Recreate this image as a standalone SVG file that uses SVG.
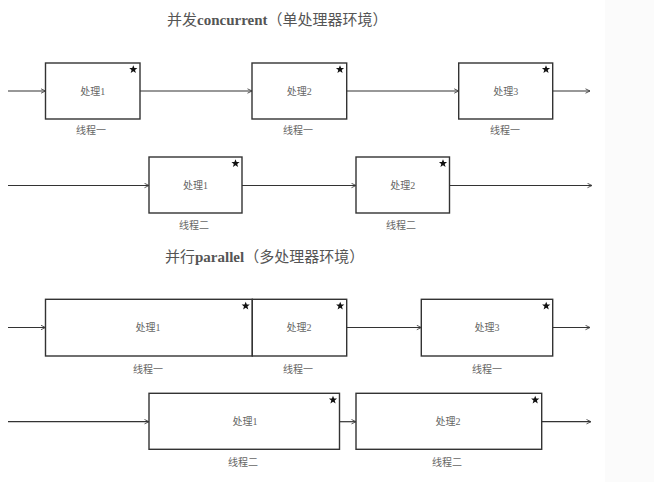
<svg xmlns="http://www.w3.org/2000/svg" width="654" height="482" viewBox="0 0 654 482">
<defs>
<marker id="arr" markerWidth="6" markerHeight="6" refX="5" refY="3" orient="auto" markerUnits="userSpaceOnUse">
<path d="M0.5,0.8 L5,3 L0.5,5.2" fill="none" stroke="#444" stroke-width="0.9"/>
</marker>
<path id="star" d="M0,-4.2 L1.1,-1.4 L4.1,-1.4 L1.7,0.5 L2.6,3.5 L0,1.8 L-2.6,3.5 L-1.7,0.5 L-4.1,-1.4 L-1.1,-1.4 Z" fill="#111"/>
</defs>
<style>
.box{fill:#fff;stroke:#333;stroke-width:1.4}
.conn{stroke:#333;stroke-width:1.2;fill:none}
.lbl{font-family:"Liberation Serif","Noto Sans CJK SC",serif;font-size:10px;fill:#666;text-anchor:middle}
.title{font-family:"Liberation Serif","Noto Sans CJK SC",serif;font-size:15px;fill:#555}
</style>
<rect x="0" y="0" width="654" height="482" fill="#fff"/>
<rect x="605" y="0" width="49" height="482" fill="#fbfbfb"/>

<text class="title" x="167" y="25">并发<tspan font-weight="bold">concurrent</tspan>（单处理器环境）</text>
<text class="title" x="165" y="262">并行<tspan font-weight="bold">parallel</tspan>（多处理器环境）</text>

<g id="connectors">
<line class="conn" x1="8" y1="91" x2="45.5" y2="91" marker-end="url(#arr)"/>
<line class="conn" x1="140" y1="91" x2="252" y2="91" marker-end="url(#arr)"/>
<line class="conn" x1="346.7" y1="91" x2="458.7" y2="91" marker-end="url(#arr)"/>
<line class="conn" x1="552.7" y1="91" x2="590" y2="91" marker-end="url(#arr)"/>

<line class="conn" x1="8" y1="185.5" x2="149" y2="185.5" marker-end="url(#arr)"/>
<line class="conn" x1="242" y1="185.5" x2="356" y2="185.5" marker-end="url(#arr)"/>
<line class="conn" x1="449.5" y1="185.5" x2="592" y2="185.5" marker-end="url(#arr)"/>

<line class="conn" x1="8" y1="327.5" x2="45.5" y2="327.5" marker-end="url(#arr)"/>
<line class="conn" x1="346.7" y1="327.5" x2="421.3" y2="327.5" marker-end="url(#arr)"/>
<line class="conn" x1="552.7" y1="327.5" x2="590" y2="327.5" marker-end="url(#arr)"/>

<line class="conn" x1="8" y1="421.7" x2="149" y2="421.7" marker-end="url(#arr)"/>
<line class="conn" x1="339.5" y1="421.7" x2="356" y2="421.7" marker-end="url(#arr)"/>
<line class="conn" x1="541.7" y1="421.7" x2="591" y2="421.7" marker-end="url(#arr)"/>
</g>

<g id="c1-p1"><rect class="box" x="45.5" y="63" width="94.5" height="56"/><use href="#star" x="133.3" y="69.5"/><text class="lbl" x="92.8" y="95">处理1</text><text class="lbl" x="91" y="134">线程一</text></g>
<g id="c1-p2"><rect class="box" x="252" y="63" width="94.7" height="56"/><use href="#star" x="340" y="69.5"/><text class="lbl" x="299.3" y="95">处理2</text><text class="lbl" x="298" y="134">线程一</text></g>
<g id="c1-p3"><rect class="box" x="458.7" y="63" width="94" height="56"/><use href="#star" x="546" y="69.5"/><text class="lbl" x="505.7" y="95">处理3</text><text class="lbl" x="505" y="134">线程一</text></g>

<g id="c2-p1"><rect class="box" x="149" y="157" width="93" height="56"/><use href="#star" x="235.5" y="163.5"/><text class="lbl" x="195.5" y="189">处理1</text><text class="lbl" x="194" y="229">线程二</text></g>
<g id="c2-p2"><rect class="box" x="356" y="157" width="93.5" height="56"/><use href="#star" x="443" y="163.5"/><text class="lbl" x="402.7" y="189">处理2</text><text class="lbl" x="401" y="229">线程二</text></g>

<g id="p1-p1"><rect class="box" x="45.5" y="299.3" width="206.8" height="56.7"/><use href="#star" x="245.7" y="306"/><text class="lbl" x="148" y="331">处理1</text><text class="lbl" x="148" y="373">线程一</text></g>
<g id="p1-p2"><rect class="box" x="252.3" y="299.3" width="94.4" height="56.7"/><use href="#star" x="340.2" y="306"/><text class="lbl" x="299" y="331">处理2</text><text class="lbl" x="298" y="373">线程一</text></g>
<g id="p1-p3"><rect class="box" x="421.3" y="299.3" width="131.4" height="56.7"/><use href="#star" x="546.2" y="306"/><text class="lbl" x="487" y="331">处理3</text><text class="lbl" x="487" y="373">线程一</text></g>

<g id="p2-p1"><rect class="box" x="149" y="393.3" width="190.5" height="56"/><use href="#star" x="333" y="400"/><text class="lbl" x="245" y="425">处理1</text><text class="lbl" x="243" y="466">线程二</text></g>
<g id="p2-p2"><rect class="box" x="356" y="393.3" width="185.7" height="56"/><use href="#star" x="535.2" y="400"/><text class="lbl" x="448" y="425">处理2</text><text class="lbl" x="447" y="466">线程二</text></g>
</svg>
